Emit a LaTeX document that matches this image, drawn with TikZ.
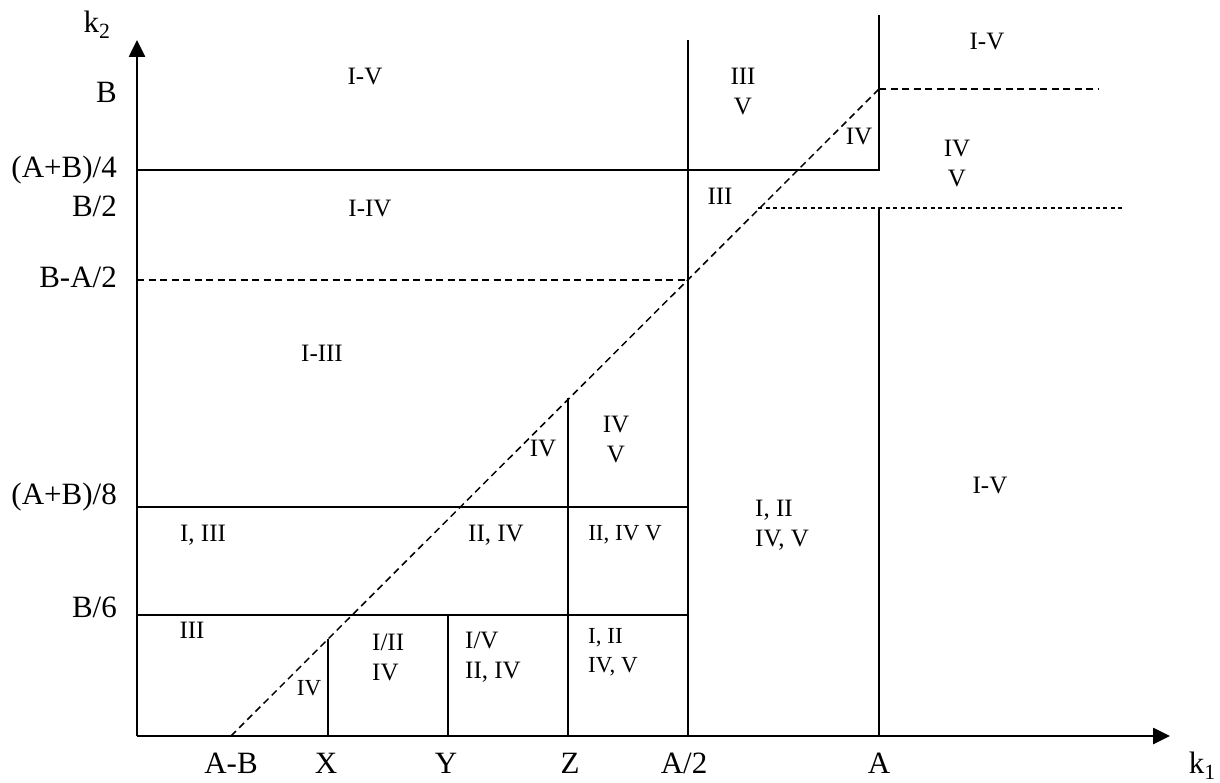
\documentclass[tikz,border=0pt]{standalone}
\usepackage{fontspec}
\setmainfont{Liberation Serif}
\usetikzlibrary{arrows.meta}
\begin{document}
\begin{tikzpicture}[x=1pt,y=-1pt,
  axis/.style={line width=2.6pt,-{Triangle[length=17pt,width=16pt]}},
  bound/.style={line width=1.6pt},
  dsh/.style={line width=1.5pt,dash pattern=on 7pt off 4.5pt},
  dot/.style={line width=1.1pt,dash pattern=on 4pt off 3.5pt},
  axlab/.style={font=\fontsize{31}{34}\selectfont,inner sep=0pt},
  reg/.style={font=\fontsize{25}{30}\selectfont,inner sep=0pt,align=center},
  regl/.style={font=\fontsize{25}{30}\selectfont,inner sep=0pt,align=left},
  sm/.style={font=\fontsize{23}{29}\selectfont,inner sep=0pt,align=left}]
\useasboundingbox (0,0) rectangle (1220,783);
% coordinates
\coordinate (O) at (137,736);
\coordinate (ytop) at (137,40);
\coordinate (xend) at (1170,736);
% axes
\draw[axis] (O) -- (ytop);
\draw[axis] (O) -- (xend);
% axis labels
\node[axlab] (k2) at (97,25) {k\textsubscript{2}};
\node[axlab,anchor=east] (k1) at (1216,766) {k\textsubscript{1}};
\node[axlab,anchor=east] (lB) at (117,92) {B};
\node[axlab,anchor=east] (lAB4) at (117,170) {(A+B)/4};
\node[axlab,anchor=east] (lB2) at (117,206) {B/2};
\node[axlab,anchor=east] (lBA2) at (117,277) {B-A/2};
\node[axlab,anchor=east] (lAB8) at (117,497) {(A+B)/8};
\node[axlab,anchor=east] (lB6) at (117,607) {B/6};
\node[axlab] (lAmB) at (231,763) {A-B};
\node[axlab] (lX) at (326,763) {X};
\node[axlab] (lY) at (446,763) {Y};
\node[axlab] (lZ) at (570,763) {Z};
\node[axlab] (lA2) at (684,763) {A/2};
\node[axlab] (lA) at (879,763) {A};
% solid boundaries
\draw[bound] (137,170) -- (879,170) -- (879,15);
\draw[bound] (688,40) -- (688,736);
\draw[bound] (879,207) -- (879,736);
\draw[bound] (137,507) -- (688,507);
\draw[bound] (137,615) -- (688,615);
\draw[bound] (568,398) -- (568,736);
\draw[bound] (448,615) -- (448,736);
\draw[bound] (328,639) -- (328,736);
% dashed
\draw[dsh] (231,736) -- (879,89);
\draw[dsh] (137,280) -- (688,280);
\draw[dsh] (879,89) -- (1098,89);
\draw[dot] (758,208) -- (1122,208);
% region labels
\node[reg] (r1) at (365,77) {I-V};
\node[reg] (r2) at (370,209) {I-IV};
\node[reg] (r3) at (322,353) {I-III};
\node[reg] (r4) at (743,92) {III\\V};
\node[reg] (r5) at (859,137) {IV};
\node[reg] (r6) at (987,42) {I-V};
\node[reg] (r7) at (957,164) {IV\\V};
\node[reg] (r8) at (720,196) {III};
\node[reg] (r9) at (543,449) {IV};
\node[reg] (r10) at (616,440) {IV\\V};
\node[reg] (r11) at (990,486) {I-V};
\node[regl,anchor=west] (r12) at (755,525) {I, II\\IV, V};
\node[reg] (r13) at (203,535) {I, III};
\node[reg] (r14) at (496,535) {II, IV};
\node[sm] (r15) at (625,535) {II, IV V};
\node[reg] (r16) at (192,630) {III};
\node[regl,anchor=west] (r17) at (372,657) {I/II\\IV};
\node[regl,anchor=west] (r18) at (465,657) {I/V\\II, IV};
\node[sm,anchor=west] (r19) at (588,652) {I, II\\IV, V};
\node[sm] (r20) at (309,688) {IV};
\end{tikzpicture}
\end{document}
